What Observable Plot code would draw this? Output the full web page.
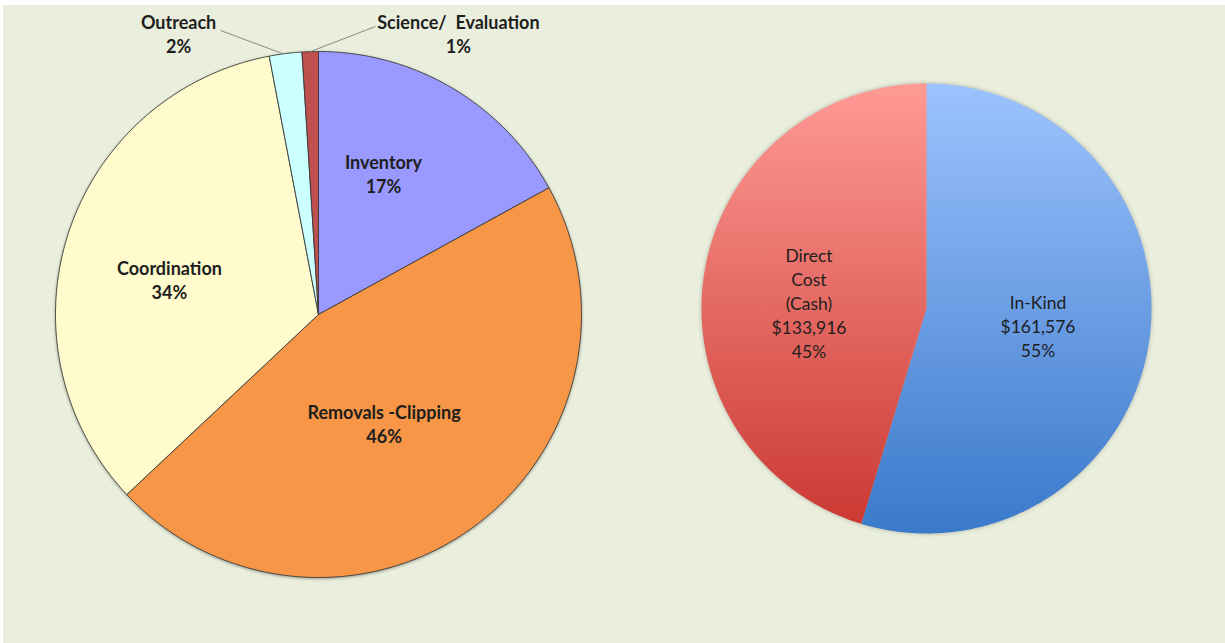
<!DOCTYPE html>
<html>
<head>
<meta charset="utf-8">
<script src="https://cdn.jsdelivr.net/npm/d3@7"></script>
<script src="https://cdn.jsdelivr.net/npm/@observablehq/plot@0.6"></script>
<style>
  html, body { margin: 0; padding: 0; background: #ffffff; overflow: hidden; }
</style>
</head>
<body>
<div id="chart"></div>
<script>
// ---------- data ----------
const leftCategories = ["Inventory", "Removals -Clipping", "Coordination", "Outreach", "Science/  Evaluation"];
const leftPercents = [17, 46, 34, 2, 1];

const rightCategories = ["In-Kind", "Direct Cost (Cash)"];
const rightLabelLines = [["In-Kind"], ["Direct", "Cost", "(Cash)"]];
const rightValues = [161576, 133916];

// ---------- styles / layout ----------
const leftColors = ["#9999FF", "#F79646", "#FFFBCC", "#CCFFFF", "#C0504D"];
const rightGradients = [
  {id: "gInKind", top: "#9DC3FF", bottom: "#3A79CA"},
  {id: "gDirect", top: "#FF9A95", bottom: "#CB3A33"}
];
const W = 1225, H = 643;
const leftPie = {cx: 318, cy: 314, r: 263, labelFactor: 0.56};
const rightPie = {cx: 926, cy: 308, r: 225, labelFactor: 0.51};
const outsideCount = 2; // last two left slices get outside labels
// small label nudges (px) relative to the mid-angle anchor, like Excel's best-fit placement
const leftLabelNudge = [[-10, -14], [-21, -10], [-9, 10]];
const rightLabelNudge = [[-2, 0], [-4, 11]];

// ---------- geometry from data ----------
const pieGen = d3.pie().sort(null).value(d => d);

function slicePolygons(values, pie, keyPrefix, fills) {
  const arcs = pieGen(values);
  const pts = [];
  arcs.forEach((a, i) => {
    const key = keyPrefix + i;
    pts.push({key, fill: fills[i], x: pie.cx, y: pie.cy});
    const n = Math.max(4, Math.ceil((a.endAngle - a.startAngle) / (Math.PI / 360)));
    for (let k = 0; k <= n; k++) {
      const t = a.startAngle + (a.endAngle - a.startAngle) * k / n;
      pts.push({key, fill: fills[i], x: pie.cx + pie.r * Math.sin(t), y: pie.cy - pie.r * Math.cos(t)});
    }
    pts.push({key, fill: fills[i], x: pie.cx, y: pie.cy});
  });
  return {arcs, pts};
}

const left = slicePolygons(leftPercents, leftPie, "L", leftColors);
const right = slicePolygons(rightValues, rightPie, "R", rightGradients.map(g => `url(#${g.id})`));

// inside labels for left
const leftInside = left.arcs.slice(0, left.arcs.length - outsideCount).map((a, i) => {
  const m = (a.startAngle + a.endAngle) / 2;
  return {
    x: leftPie.cx + leftPie.r * leftPie.labelFactor * Math.sin(m) + leftLabelNudge[i][0],
    y: leftPie.cy - leftPie.r * leftPie.labelFactor * Math.cos(m) + leftLabelNudge[i][1],
    text: leftCategories[i] + "\n" + leftPercents[i] + "%"
  };
});

// outside labels for the two small slices
const leftOutside = left.arcs.slice(left.arcs.length - outsideCount).map((a, j) => {
  const i = left.arcs.length - outsideCount + j;
  const m = (a.startAngle + a.endAngle) / 2;
  const side = j === 0 ? -1 : 1;
  const lx = leftPie.cx + side * leftPie.r * 0.532;
  const ly = leftPie.cy - leftPie.r - 18;
  return {
    x: lx, y: ly,
    text: leftCategories[i].replace("  ", "\u00a0 ") + "\n" + leftPercents[i] + "%",
    x1: j === 0 ? lx + 42 : lx - 83,
    y1: j === 0 ? ly - 3 : ly - 7,
    x2: leftPie.cx + leftPie.r * Math.sin(m) + (j === 0 ? -3 : 0),
    y2: leftPie.cy - leftPie.r * Math.cos(m)
  };
});

const rightTotal = d3.sum(rightValues);
const rightLabels = right.arcs.map((a, i) => {
  const m = (a.startAngle + a.endAngle) / 2;
  return {
    x: rightPie.cx + rightPie.r * rightPie.labelFactor * Math.sin(m) + rightLabelNudge[i][0],
    y: rightPie.cy - rightPie.r * rightPie.labelFactor * Math.cos(m) + rightLabelNudge[i][1],
    text: [...rightLabelLines[i], "$" + d3.format(",")(rightValues[i]), Math.round(100 * rightValues[i] / rightTotal) + "%"].join("\n")
  };
});

const font = "Lato, 'Open Sans', sans-serif";
const boldSize = 18, normalSize = 17.5;

const chart = Plot.plot({
  width: W,
  height: H,
  margin: 0,
  x: {domain: [0, W], range: [0, W], axis: null},
  y: {domain: [0, H], range: [0, H], axis: null},
  color: {type: "identity"},
  style: {fontFamily: font},
  marks: [
    Plot.line(left.pts, {x: "x", y: "y", z: "key", fill: "fill", stroke: "#3a3a3a", strokeWidth: 0.9, curve: "linear"}),
    Plot.line(right.pts, {x: "x", y: "y", z: "key", fill: "fill", stroke: "none", curve: "linear"}),
    Plot.link(leftOutside, {x1: "x1", y1: "y1", x2: "x2", y2: "y2", stroke: "#8a8a8a", strokeWidth: 1}),
    Plot.text(leftInside, {x: "x", y: "y", text: "text", fontSize: boldSize, fontWeight: "bold", lineHeight: 24 / boldSize, fill: "#1e1e1e"}),
    Plot.text(leftOutside, {x: "x", y: "y", text: "text", fontSize: boldSize, fontWeight: "bold", lineHeight: 24 / boldSize, fill: "#1e1e1e"}),
    Plot.text(rightLabels, {x: "x", y: "y", text: "text", fontSize: normalSize, fontWeight: "normal", lineHeight: 24 / normalSize, fill: "#1e1e1e"})
  ]
});

chart.style.background = "linear-gradient(#EAEEDC, #EAEEDC) 3px 5px / 100% 100% no-repeat, #ffffff";

// gradient definitions
const ns = "http://www.w3.org/2000/svg";
const defs = document.createElementNS(ns, "defs");
rightGradients.forEach(g => {
  const lg = document.createElementNS(ns, "linearGradient");
  lg.setAttribute("id", g.id);
  lg.setAttribute("x1", "0"); lg.setAttribute("y1", "0");
  lg.setAttribute("x2", "0"); lg.setAttribute("y2", "1");
  [[0, g.top], [1, g.bottom]].forEach(([o, c]) => {
    const s = document.createElementNS(ns, "stop");
    s.setAttribute("offset", o);
    s.setAttribute("stop-color", c);
    lg.appendChild(s);
  });
  defs.appendChild(lg);
});
chart.insertBefore(defs, chart.firstChild);

const lineGroups = chart.querySelectorAll('g[aria-label="line"]');
if (lineGroups[0]) lineGroups[0].style.filter = "drop-shadow(0px 1.5px 1.5px rgba(0,0,0,0.35))";
if (lineGroups[1]) lineGroups[1].style.filter = "drop-shadow(0px 0px 2px rgba(0,0,0,0.25))";

document.getElementById("chart").appendChild(chart);
</script>
</body>
</html>
